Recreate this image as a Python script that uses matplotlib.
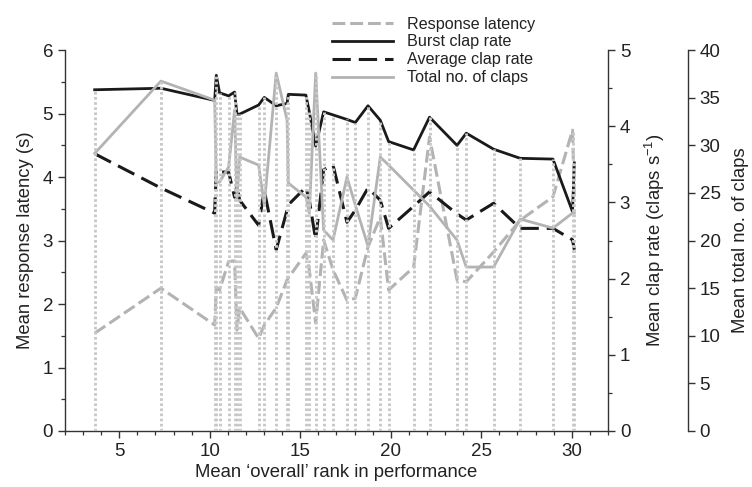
import matplotlib
matplotlib.use("Agg")
import matplotlib.pyplot as plt
import numpy as np
from matplotlib.ticker import MultipleLocator

plt.rcParams["font.family"] = ["Liberation Sans", "DejaVu Sans"]
plt.rcParams["mathtext.fontset"] = "custom"
plt.rcParams["mathtext.rm"] = "Liberation Sans"

# mean overall rank of each performance
rank = [3.64, 7.30, 10.27, 10.36, 10.54, 11.04, 11.37, 11.50, 11.65, 12.70, 13.01,
        13.67, 14.27, 14.34, 15.31, 15.50, 15.85, 16.29, 16.81, 17.58, 18.04, 18.74,
        19.42, 19.88, 21.26, 22.14, 23.66, 24.17, 25.68, 27.15, 28.96, 30.04, 30.14]

# response latency (s), left axis
latency = [1.54, 2.25, 1.67, 2.27, 2.22, 2.67, 2.68, 1.59, 1.94, 1.46, 1.67,
           1.94, 2.38, 2.41, 2.80, 2.54, 1.70, 3.01, 2.54, 2.06, 2.09, 2.90,
           3.37, 2.22, 2.58, 4.63, 2.38, 2.35, 2.82, 3.32, 3.69, 4.74, 3.72]

# burst clap rate (claps/s)
burstRate = [4.48, 4.50, 4.34, 4.67, 4.44, 4.40, 4.45, 4.16, 4.16, 4.28, 4.38,
             4.27, 4.30, 4.42, 4.41, 4.19, 3.74, 4.19, 4.15, 4.09, 4.05, 4.27,
             4.08, 3.80, 3.69, 4.12, 3.75, 3.91, 3.70, 3.58, 3.57, 2.88, 3.52]

# average clap rate (claps/s)
avgRate = [3.64, 3.19, 2.86, 3.43, 3.40, 3.40, 3.07, 3.23, 3.03, 2.70, 3.16,
           2.38, 2.90, 2.97, 3.20, 3.03, 2.51, 3.43, 3.49, 2.74, 2.90, 3.19,
           3.03, 2.66, 2.95, 3.14, 2.85, 2.77, 2.99, 2.66, 2.66, 2.51, 2.38]

# total number of claps
totalClaps = [29.15, 36.75, 34.75, 26.14, 26.14, 27.72, 33.70, 24.46, 28.77, 27.93, 23.73,
              37.59, 32.65, 26.04, 24.57, 22.89, 37.59, 21.10, 20.05, 26.67, 23.73, 19.42,
              28.77, 27.93, 25.30, 23.62, 20.05, 17.22, 17.22, 22.26, 21.31, 22.89, 22.89]

spineColor = "#333333"
lightGray = "#b3b3b3"
dotGray = "#c8c8c8"

fig = plt.figure(figsize=(7.52, 4.87), dpi=100)
ax = fig.add_axes([0.0864, 0.115, 0.7221, 0.782])
axRate = ax.twinx()
axClaps = ax.twinx()
axClaps.spines["right"].set_position(("axes", 1.147))

ax.set_xlim(2, 32)
ax.set_ylim(0, 6)
axRate.set_ylim(0, 5)
axClaps.set_ylim(0, 40)

# latency on the left axis
lnLat, = ax.plot(rank, latency, color=lightGray, linewidth=2.2, zorder=2)
lnLat.set_dashes((4.2, 1.6))

lnBurst, = axRate.plot(rank, burstRate, color="#1a1a1a", linewidth=2.0, zorder=2)
lnAvg, = axRate.plot(rank, avgRate, color="#1a1a1a", linewidth=2.2, zorder=2)
lnAvg.set_dashes((6.0, 2.6))

lnTot, = axClaps.plot(rank, totalClaps, color=lightGray, linewidth=2.0, zorder=2)

# dotted drop lines, from zero up to the highest series at each rank (in left-axis units)
tops = np.max(np.vstack([
    np.asarray(latency),
    np.asarray(burstRate) * 6 / 5,
    np.asarray(avgRate) * 6 / 5,
    np.asarray(totalClaps) * 6 / 40,
]), axis=0)
drops = axClaps.vlines(rank, 0, tops * 40 / 6, colors=dotGray, linewidth=2.1, zorder=3)
drops.set_linestyle((0, (0.9, 0.85)))

# axes styling
for side in ["top", "right"]:
    ax.spines[side].set_visible(False)
for a in (axRate, axClaps):
    for side in ["top", "left", "bottom"]:
        a.spines[side].set_visible(False)
for a in (ax, axRate, axClaps):
    for sp in a.spines.values():
        sp.set_color(spineColor)
        sp.set_linewidth(1.0)
    a.tick_params(which="both", direction="out", colors=spineColor, labelcolor="#222222",
                  labelsize=13.5)
    a.tick_params(which="major", length=5, width=1.0)
    a.tick_params(which="minor", length=3, width=0.9)

ax.xaxis.set_major_locator(MultipleLocator(5))
ax.xaxis.set_minor_locator(MultipleLocator(1))
ax.set_xticks([5, 10, 15, 20, 25, 30])
ax.yaxis.set_major_locator(MultipleLocator(1))
ax.yaxis.set_minor_locator(MultipleLocator(0.5))
axRate.yaxis.set_major_locator(MultipleLocator(1))
axRate.yaxis.set_minor_locator(MultipleLocator(0.5))
axClaps.yaxis.set_major_locator(MultipleLocator(5))

ax.set_xlabel("Mean \u2018overall\u2019 rank in performance", fontsize=13.3, color="#222222", labelpad=3)
ax.set_ylabel("Mean response latency (s)", fontsize=13.3, color="#222222", labelpad=6)
axRate.set_ylabel(r"Mean clap rate (claps s$^{\mathregular{-1}}$)", fontsize=13.3,
                  color="#222222", labelpad=9)
axClaps.set_ylabel("Mean total no. of claps", fontsize=13.3, color="#222222", labelpad=8)

fig.legend([lnLat, lnBurst, lnAvg, lnTot],
           ["Response latency", "Burst clap rate", "Average clap rate", "Total no. of claps"],
           loc="upper left", bbox_to_anchor=(0.441, 0.966), frameon=False, fontsize=11.6,
           handlelength=3.8, handletextpad=0.9, labelspacing=0.18, borderpad=0,
           borderaxespad=0, labelcolor="#222222")

fig.savefig("out.png", dpi=100)
